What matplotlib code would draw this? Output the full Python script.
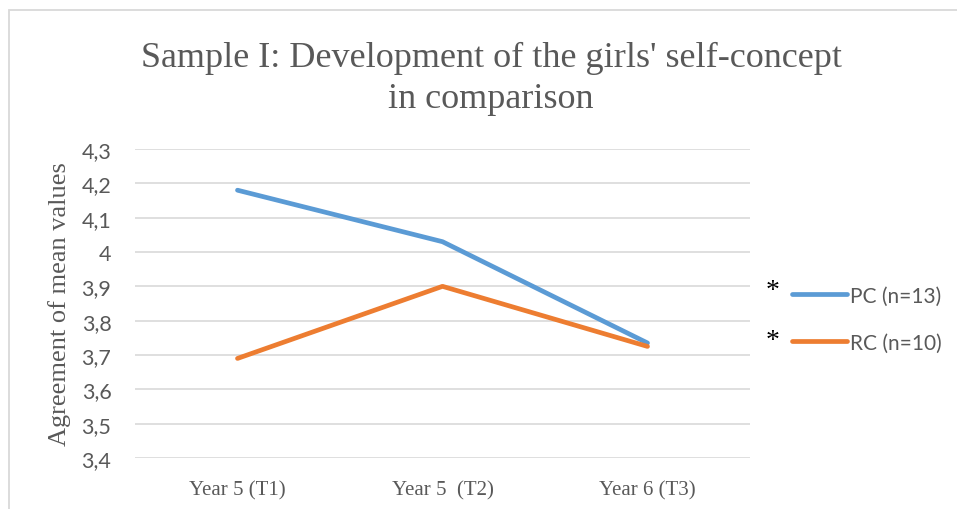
import matplotlib.pyplot as plt
from matplotlib.lines import Line2D
from matplotlib.patches import Rectangle

# Dados
categorias = ['Year 5 (T1)', 'Year 5  (T2)', 'Year 6 (T3)']
pc_valores = [4.18, 4.03, 3.735]
rc_valores = [3.69, 3.90, 3.725]
y_ticks = [3.4, 3.5, 3.6, 3.7, 3.8, 3.9, 4.0, 4.1, 4.2, 4.3]
y_labels = ['3,4', '3,5', '3,6', '3,7', '3,8', '3,9', '4', '4,1', '4,2', '4,3']
series_nomes = ['PC (n=13)', 'RC (n=10)']

azul = '#5B9BD5'
laranja = '#ED7D31'
cinza_txt = '#595959'
serif = 'Liberation Serif'
sans = 'Lato'

fig = plt.figure(figsize=(9.57, 5.10), dpi=100)
W, H = 957, 510

# Moldura do gráfico (borda cinza clara)
fig.patches.append(Rectangle((9 / W, -0.1), 1.0, (H - 11) / H + 0.1,
                             transform=fig.transFigure, fill=False,
                             edgecolor='#D9D9D9', linewidth=1.3))

ax = fig.add_axes([135 / W, (H - 459) / H, (750 - 135) / W, (459 - 150) / H])

x = list(range(len(categorias)))
ax.plot(x, pc_valores, color=azul, linewidth=3.4, solid_capstyle='round', zorder=3)
ax.plot(x, rc_valores, color=laranja, linewidth=3.4, solid_capstyle='round', zorder=3)

ax.set_xlim(-0.5, len(categorias) - 0.5)
ax.set_ylim(3.4, 4.3)
ax.set_yticks(y_ticks)
ax.set_yticklabels(y_labels, fontsize=15.5, family=sans, color=cinza_txt)
ax.set_xticks(x)
ax.set_xticklabels(categorias, fontsize=15, family=serif, color=cinza_txt)
ax.tick_params(axis='both', length=0)
ax.tick_params(axis='y', pad=17)
ax.tick_params(axis='x', pad=16)
ax.grid(axis='y', color='#D9D9D9', linewidth=1.2)
ax.set_axisbelow(True)
for s in ax.spines.values():
    s.set_visible(False)

ax.set_ylabel('Agreement of mean values', fontsize=19, family=serif,
              color=cinza_txt)
ax.yaxis.set_label_coords((71 - 135) / (750 - 135), 0.5)
fig.text(491 / W, 1 - 79 / H, "Sample I: Development of the girls' self-concept\nin comparison",
         ha='center', va='center', fontsize=26, family=serif, color=cinza_txt,
         linespacing=1.32)

# Legenda com asteriscos
handles = [Line2D([], [], color=azul, linewidth=3.4, solid_capstyle='round'),
           Line2D([], [], color=laranja, linewidth=3.4, solid_capstyle='round')]
leg = fig.legend(handles, series_nomes, loc='center left',
                 bbox_to_anchor=(782 / W, 1 - 320 / H), frameon=False,
                 prop={'family': sans, 'size': 15}, handlelength=2.6,
                 handletextpad=0.15, labelspacing=1.3, borderpad=0)
for t in leg.get_texts():
    t.set_color(cinza_txt)
for yy in [292, 342]:
    fig.text(773 / W, 1 - yy / H, '*', ha='center', va='center',
             fontsize=20, family=serif, color='black')

fig.savefig('out.png', dpi=100)
